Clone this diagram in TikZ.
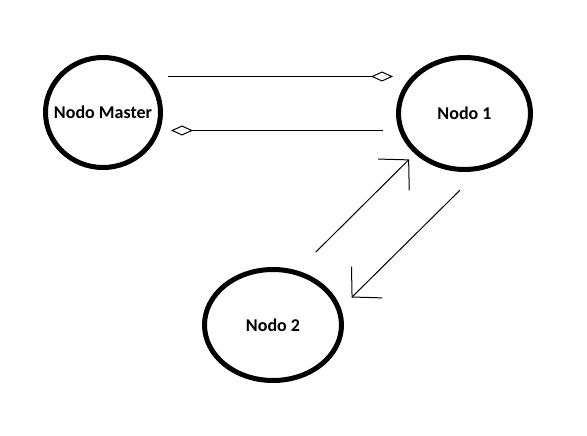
\documentclass[tikz,border=0pt]{standalone}
\usepackage{fontspec}
\setmainfont{Carlito}
\usetikzlibrary{arrows.meta,shapes.geometric,positioning}
\tikzset{
	nodo/.style = {
		draw,
		ellipse,
		line width=5pt,
		inner sep=0pt,
		font=\fontsize{18}{21}\selectfont\bfseries,
		align=center
	},
	enlace/.style = {
		-{Diamond[open, length=22pt, width=10pt, line width=1pt]},
		line width=1pt
	},
	flecha/.style = {
		-{Straight Barb[length=21pt, width=44pt, line width=1pt]},
		line width=1pt
	}
}

\begin{document}
\begin{tikzpicture}[x=1pt, y=-1pt]

		% --- Marco del dibujo ---
		\useasboundingbox (0,0) rectangle (587,436);

		% --- NODOS ---
		% Nodo principal a la izquierda (texto mas ancho: se reduce el margen)
		\node [nodo, inner xsep=-15pt, minimum width=115pt, minimum height=110pt] (master) at (103,112.5) {Nodo Master};

		% Nodo 1 a la derecha
		\node [nodo, minimum width=132pt, minimum height=112pt] (nodo1) at (464.5,113.5) {Nodo 1};

		% Nodo 2 abajo
		\node [nodo, minimum width=137pt, minimum height=111pt] (nodo2) at (273,325) {Nodo 2};

		% --- CONEXIONES ---
		% Master -> Nodo 1 (linea superior)
		\draw [enlace, shorten <=5pt, shorten >=3pt]
		([yshift=36pt]master.east) -- ([yshift=37pt]nodo1.west);

		% Nodo 1 -> Master (linea inferior)
		\draw [enlace, shorten <=13pt, shorten >=8pt]
		([yshift=-17pt]nodo1.west) -- ([yshift=-18pt]master.east);

		% Nodo 2 -> Nodo 1
		\draw [flecha, shorten <=26pt, shorten >=8pt] (nodo2.66) -- (nodo1.219);

		% Nodo 1 -> Nodo 2
		\draw [flecha, shorten <=28pt, shorten >=15pt] (nodo1.285) -- (nodo2.14);

	\end{tikzpicture}
\end{document}
